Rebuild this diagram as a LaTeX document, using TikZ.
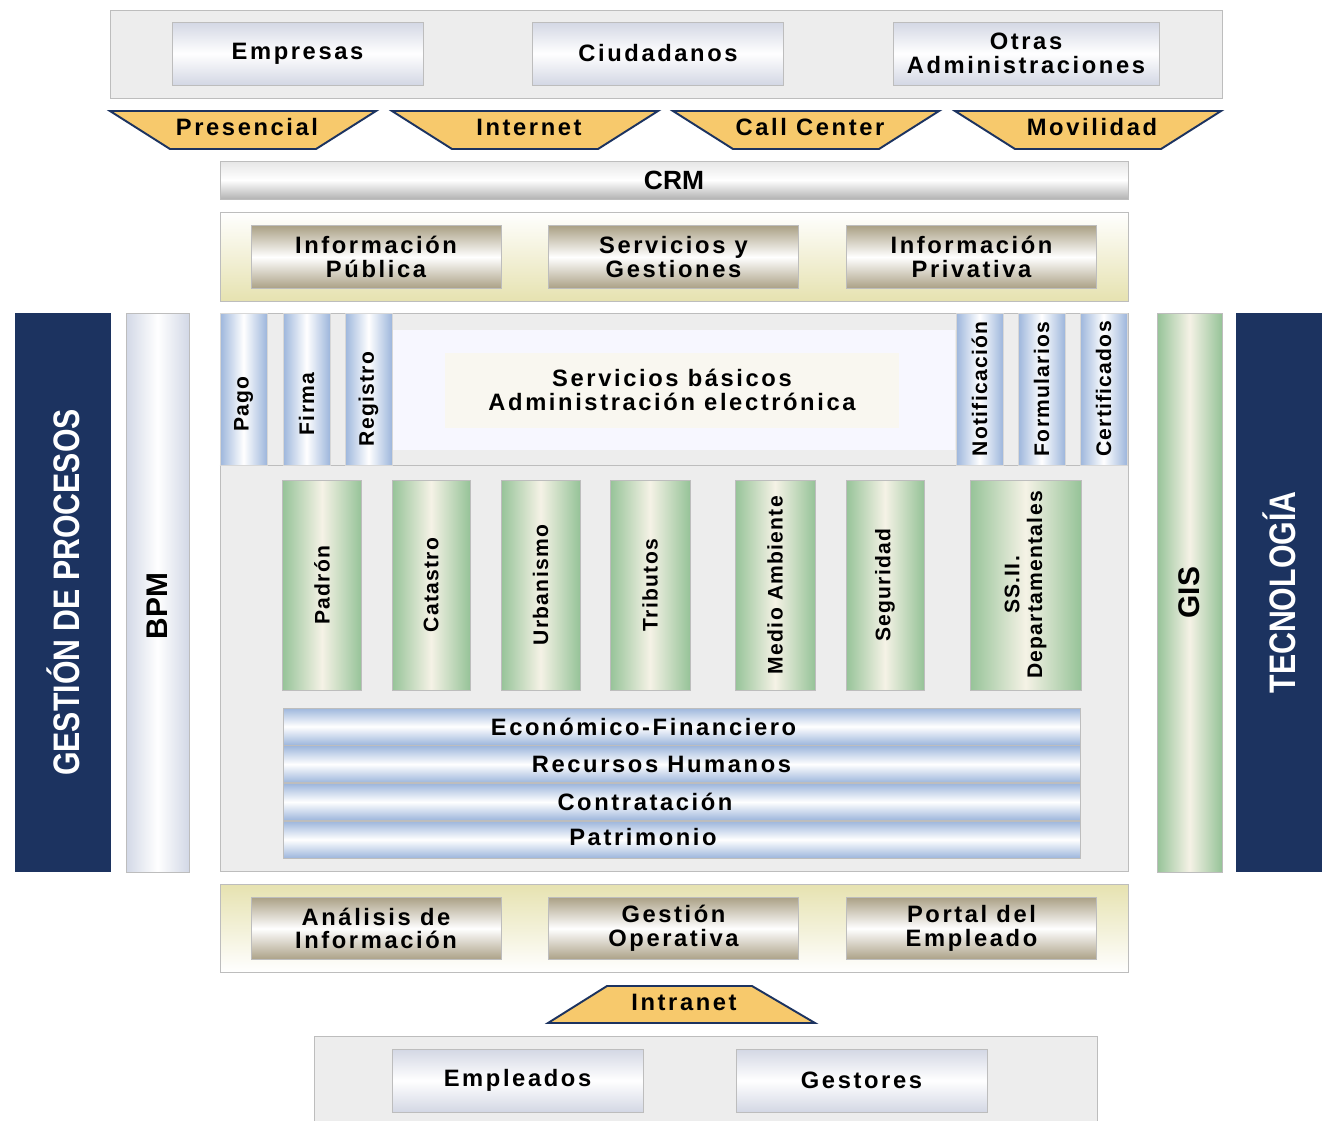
\documentclass[tikz,border=0pt]{standalone}
\usepackage{fontspec}
\setmainfont{Liberation Sans}
\newfontfamily\widefont{Liberation Sans}[LetterSpace=11]
\newfontfamily\tallfont{Liberation Sans}[LetterSpace=6]
\newfontfamily\narrowfont{Liberation Sans}[FakeStretch=0.82]
\usetikzlibrary{positioning}
\definecolor{navy}{HTML}{1C3360}
\definecolor{chanfill}{HTML}{F7C96C}
\definecolor{grayline}{HTML}{BDBDBD}
\definecolor{panelgray}{HTML}{EDEDED}
\definecolor{boxblue}{HTML}{D3D7E4}
\definecolor{tan}{HTML}{ABA186}
\definecolor{beige}{HTML}{E6E2B0}
\definecolor{bluebar}{HTML}{9DB6DC}
\definecolor{greenbar}{HTML}{96C398}
\definecolor{cream}{HTML}{F5F2E6}
\definecolor{bpmgray}{HTML}{D2D8E6}

\begin{document}
\begin{tikzpicture}[x=0.02cm,y=-0.02cm,
    every node/.style={font=\widefont\bfseries\fontsize{13.5}{13.5}\selectfont,
      inner sep=0pt, align=center},
    panel/.style={draw=grayline, fill=panelgray},
    person/.style={draw=grayline, top color=boxblue, bottom color=boxblue,
      middle color=white, minimum height=1.26cm},
    channel/.style={draw=navy, fill=chanfill, line width=1.1pt},
    infobox/.style={draw=grayline, top color=tan, bottom color=tan,
      middle color=white, minimum width=5cm, minimum height=1.25cm},
    sidebar/.style={fill=navy, text=white, rotate=90, minimum width=11.18cm,
      font=\narrowfont\bfseries\fontsize{21}{21}\selectfont},
    blubar/.style={draw=grayline!60, left color=bluebar, right color=bluebar,
      middle color=white, rotate=90, minimum width=3.04cm, minimum height=0.94cm,
      font=\tallfont\bfseries\fontsize{12}{12}\selectfont},
    grnbar/.style={draw=grayline, left color=greenbar, right color=greenbar,
      middle color=cream, rotate=90, minimum width=4.2cm,
      font=\tallfont\bfseries\fontsize{12}{13}\selectfont},
    hbar/.style={draw=grayline, top color=bluebar, bottom color=bluebar,
      middle color=white, minimum width=15.94cm, minimum height=0.74cm}]

  \path[use as bounding box, fill=white] (0,0) rectangle (1322,1120);

  % usuarios
  \node[panel, minimum width=22.24cm, minimum height=1.76cm] (users) at (666,54) {};
  \node[person, minimum width=5.02cm] (empresas) at (297.5,53.5) {Empresas};
  \node[person, minimum width=5.02cm] (ciudadanos) at (658,53.5) {Ciudadanos};
  \node[person, minimum width=5.32cm] (otras) at (1026,53.5) {Otras\\Administraciones};

  % canales
  \foreach \x/\name/\txt in {110/pres/Presencial, 392/inet/Internet,
      673/call/Call Center, 955/movil/Movilidad} {
    \draw[channel] (\x,111) -- ++(266,0) -- ++(-60,38) -- ++(-146,0) -- cycle;
    \node (\name) at (\x+137,127) {\txt};
  }

  \node[draw=grayline, top color=black!10, bottom color=black!30, middle color=white,
    minimum width=18.16cm, minimum height=0.76cm,
    font=\bfseries\fontsize{15}{15}\selectfont] (crm) at (674,180) {CRM};

  % front office
  \node[draw=grayline, top color=white, bottom color=beige,
    minimum width=18.16cm, minimum height=1.78cm] (front) at (674,256.5) {};
  \node[infobox] (infpub) at (376,257) {Información\\Pública};
  \node[infobox] (servic) at (673.5,257) {Servicios y\\Gestiones};
  \node[infobox] (infpriv) at (971.5,257) {Información\\Privativa};

  % laterales
  \node[sidebar, minimum height=1.92cm] (procesos) at (63,592.5) {GESTIÓN DE PROCESOS};
  \node[draw=grayline, rotate=90, left color=bpmgray, right color=bpmgray,
    middle color=white, minimum width=11.18cm, minimum height=1.26cm,
    font=\bfseries\fontsize{17}{17}\selectfont] (bpm) at (157.5,592.5)
    {BPM\hspace*{0.55cm}};
  \node[draw=grayline, rotate=90, left color=greenbar, right color=greenbar,
    middle color=cream, minimum width=11.18cm, minimum height=1.3cm,
    font=\bfseries\fontsize{17}{17}\selectfont] (gis) at (1189.5,592.5) {GIS};
  \node[sidebar, minimum height=1.72cm] (tecno) at (1279,592.5) {TECNOLOGÍA};

  % nucleo
  \node[panel, minimum width=18.16cm, minimum height=11.16cm] (core) at (674,592) {};
  \draw[grayline] (core.west |- 0,465) -- (core.east |- 0,465);
  \node[fill=blue!3, minimum width=11.24cm, minimum height=2.4cm] (bandas) at (674,390) {};
  \node[fill=cream!60, minimum width=9.1cm, minimum height=1.5cm] (basicos) at (672,390)
    {Servicios básicos\\Administración electrónica};

  \foreach \x/\name/\txt/\gap in {243.5/pago/Pago/0.6, 306.5/firma/Firma/0.6,
      368.5/registro/Registro/0.4, 979.5/notif/Notificación/0,
      1041.5/form/Formularios/0, 1103.5/cert/Certificados/0}
    \node[blubar] (\name) at (\x,389) {\txt\hspace*{\gap cm}};

  \foreach \x/\w/\name/\txt in {322/1.58/padron/Padrón, 431/1.56/catastro/Catastro,
      540.5/1.58/urban/Urbanismo, 650/1.6/tributos/Tributos,
      775/1.6/medio/Medio Ambiente, 885/1.56/segur/Seguridad,
      1025.5/2.22/ssii/{SS.II.\\Departamentales}}
    \node[grnbar, minimum height=\w cm] (\name) at (\x,585) {\txt};

  \node[hbar] (econ) at (681.5,726.5) {};
  \node[hbar, below=0pt of econ] (rrhh) {};
  \node[hbar, below=0pt of rrhh] (contrat) {};
  \node[hbar, below=0pt of contrat] (patrim) {};
  \node (econtxt) at ([xshift=-0.76cm]econ.center) {Económico-Financiero};
  \node (rrhhtxt) at ([xshift=-0.4cm]rrhh.center) {Recursos Humanos};
  \node (contrattxt) at ([xshift=-0.73cm]contrat.center) {Contratación};
  \node (patrimtxt) at ([xshift=-0.77cm,yshift=0.06cm]patrim.center) {Patrimonio};

  % back office
  \node[draw=grayline, top color=beige, bottom color=white,
    minimum width=18.16cm, minimum height=1.76cm] (back) at (674,928) {};
  \node[infobox] (analisis) at (376,928.5) {Análisis de\\Información};
  \node[infobox] (operativa) at (673.5,928.5) {Gestión\\Operativa};
  \node[infobox] (portal) at (971.5,928.5) {Portal del\\Empleado};

  \draw[channel] (548,1023) -- (815,1023) -- (752,986) -- (607,986) -- cycle;
  \node (intranet) at (684,1002) {Intranet};

  % empleados
  \node[panel, anchor=north west, minimum width=15.66cm, minimum height=1.9cm]
    (staff) at (314,1036) {};
  \node[person, minimum width=5.02cm] (empleados) at (517.5,1080.5) {Empleados};
  \node[person, minimum width=5.02cm] (gestores) at (861.5,1080.5) {Gestores};
\end{tikzpicture}
\end{document}
